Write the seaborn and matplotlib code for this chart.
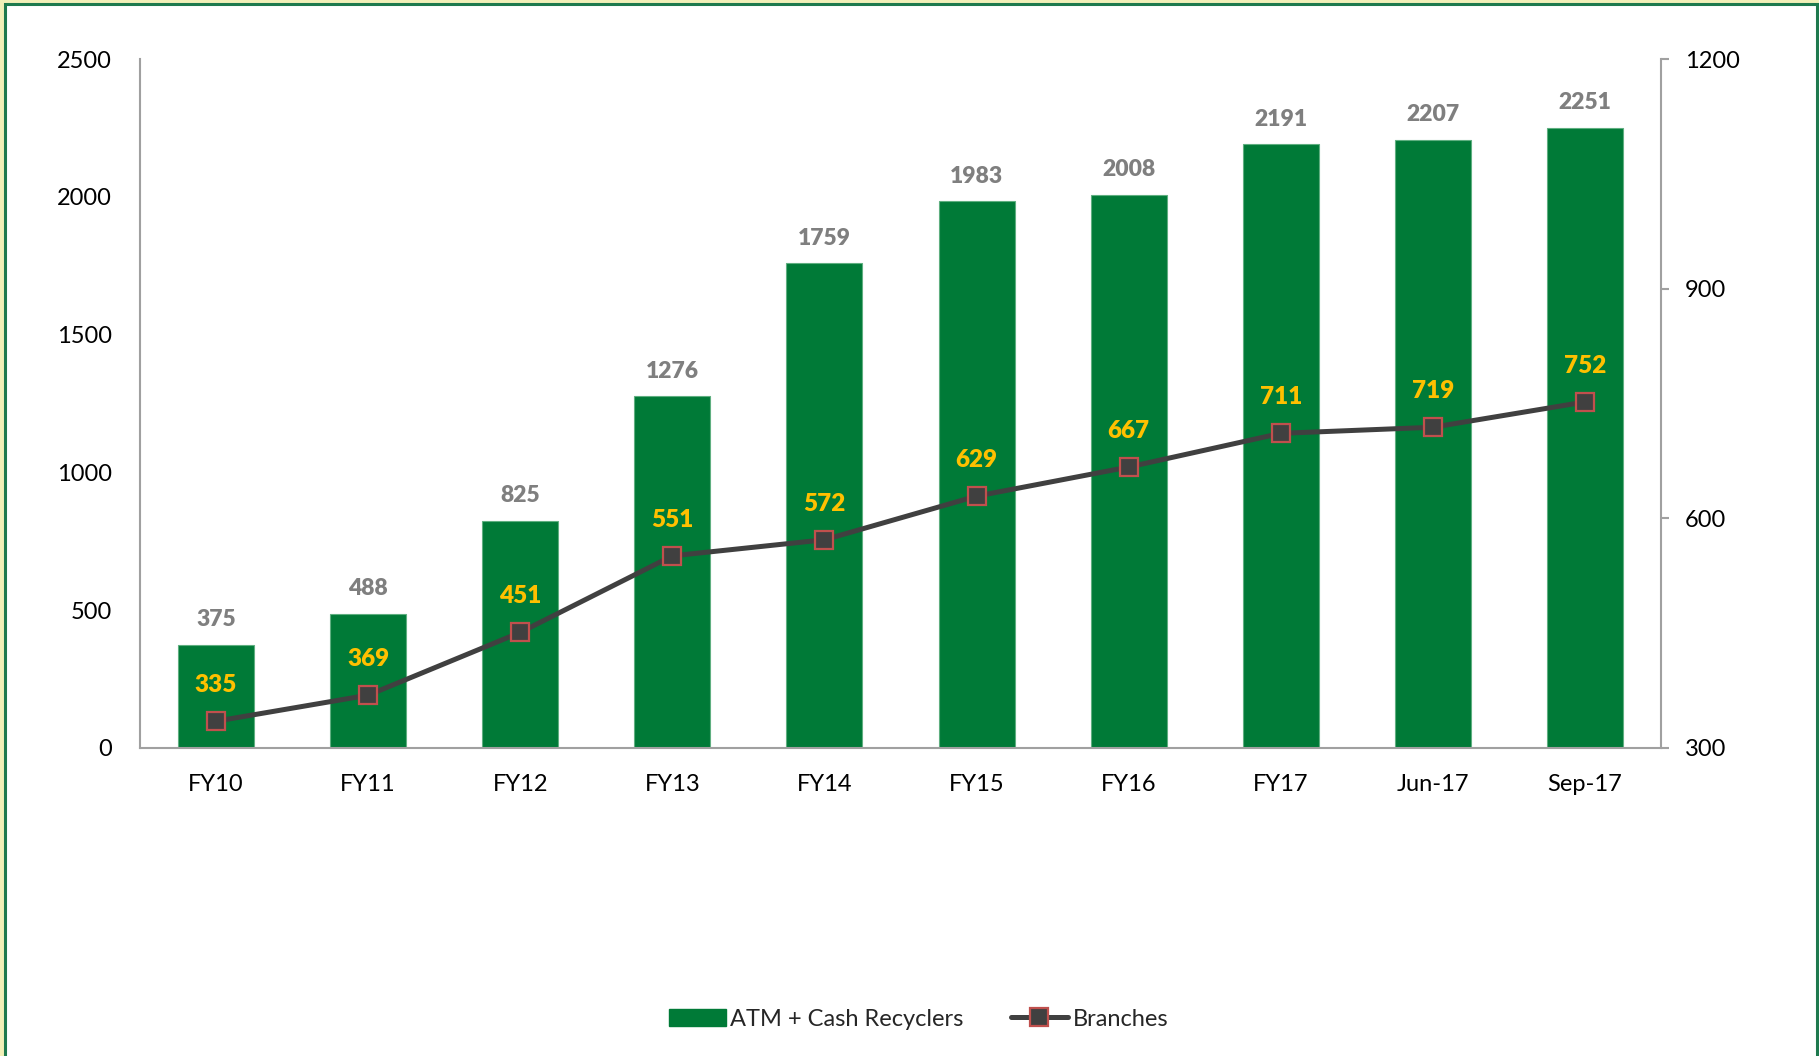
import matplotlib
matplotlib.use("Agg")
import matplotlib.pyplot as plt
import seaborn as sns
import pandas as pd
from matplotlib.patches import Rectangle
from matplotlib.lines import Line2D
from matplotlib.patches import Patch

categories = ["FY10", "FY11", "FY12", "FY13", "FY14", "FY15", "FY16", "FY17", "Jun-17", "Sep-17"]
atm_values = [375, 488, 825, 1276, 1759, 1983, 2008, 2191, 2207, 2251]
branch_values = [335, 369, 451, 551, 572, 629, 667, 711, 719, 752]
left_ticks = [0, 500, 1000, 1500, 2000, 2500]
right_ticks = [300, 600, 900, 1200]

sns.set_theme(style="white")
plt.rcParams['font.family'] = ['Lato', 'DejaVu Sans']

GREEN = "#007A37"
LINE = "#404040"
MEDGE = "#C0504D"
GRAY = "#7F7F7F"
GOLD = "#FFC000"

df = pd.DataFrame({"cat": categories, "atm": atm_values, "br": branch_values})

fig = plt.figure(figsize=(18.19, 10.56), dpi=100)
fig.patch.set_facecolor("#F2F0B8")
# inner white panel with green border
fig.patches.append(Rectangle((5/1819, -0.01), (1817-5)/1819, 1 - 4/1056 + 0.01,
                             transform=fig.transFigure, facecolor="white",
                             edgecolor="#1E7A4E", linewidth=2.2, zorder=-1))

ax = fig.add_axes([140/1819, 1 - 748/1056, (1661-140)/1819, (748-59)/1056])
ax.set_facecolor("none")
sns.barplot(data=df, x="cat", y="atm", color=GREEN, saturation=1, width=0.5,
            edgecolor="#5FAF80", linewidth=0.8, ax=ax, zorder=2)
ax.set_ylim(0, 2500)
ax.set_xlim(-0.5, len(categories) - 0.5)
ax.set_yticks(left_ticks)
ax.set_xlabel("")
ax.set_ylabel("")
for i, v in enumerate(atm_values):
    ax.annotate(str(v), (i, v), xytext=(0, 18), textcoords="offset points",
                ha="center", va="center", fontsize=16.5, fontweight="heavy", color=GRAY)

ax2 = ax.twinx()
sns.lineplot(x=list(range(len(categories))), y=branch_values, ax=ax2, color=LINE,
             linewidth=3.6, marker="s", markersize=13, markerfacecolor=LINE,
             markeredgecolor=MEDGE, markeredgewidth=1.6, zorder=3)
ax2.set_ylim(300, 1200)
ax2.set_yticks(right_ticks)
ax.set_xlim(-0.5, len(categories) - 0.5)
for i, v in enumerate(branch_values):
    ax2.annotate(str(v), (i, v), xytext=(0, 26), textcoords="offset points",
                 ha="center", va="center", fontsize=17.5, fontweight="heavy", color=GOLD)

for a in (ax, ax2):
    for s in a.spines.values():
        s.set_visible(False)
ax.spines["left"].set_visible(True)
ax.spines["left"].set_color("#A0A0A0")
ax.spines["left"].set_linewidth(1.5)
ax.spines["bottom"].set_visible(True)
ax.spines["bottom"].set_color("#A0A0A0")
ax.spines["bottom"].set_linewidth(1.5)
ax2.spines["right"].set_visible(True)
ax2.spines["right"].set_color("#A0A0A0")
ax2.spines["right"].set_linewidth(1.5)

ax.tick_params(axis="y", left=False, labelsize=17, labelcolor="black", pad=14)
ax.tick_params(axis="x", bottom=False, labelsize=17, labelcolor="black", pad=13)
ax2.tick_params(axis="y", right=True, length=6, width=1.5, color="#A0A0A0",
                labelsize=17, labelcolor="black", pad=11)
ax2.set_ylabel("")

handles = [Patch(facecolor=GREEN, edgecolor=GREEN),
           Line2D([0], [0], color=LINE, linewidth=3.6, marker="s", markersize=13,
                  markerfacecolor=LINE, markeredgecolor=MEDGE, markeredgewidth=1.6)]
fig.legend(handles, ["ATM + Cash Recyclers", "Branches"], loc="center",
           bbox_to_anchor=(0.505, 1 - 1019/1056), ncol=2, frameon=False,
           fontsize=17, handlelength=2.4, handletextpad=0.2, columnspacing=2.0)

fig.savefig("out.png", dpi=100, facecolor=fig.get_facecolor())
